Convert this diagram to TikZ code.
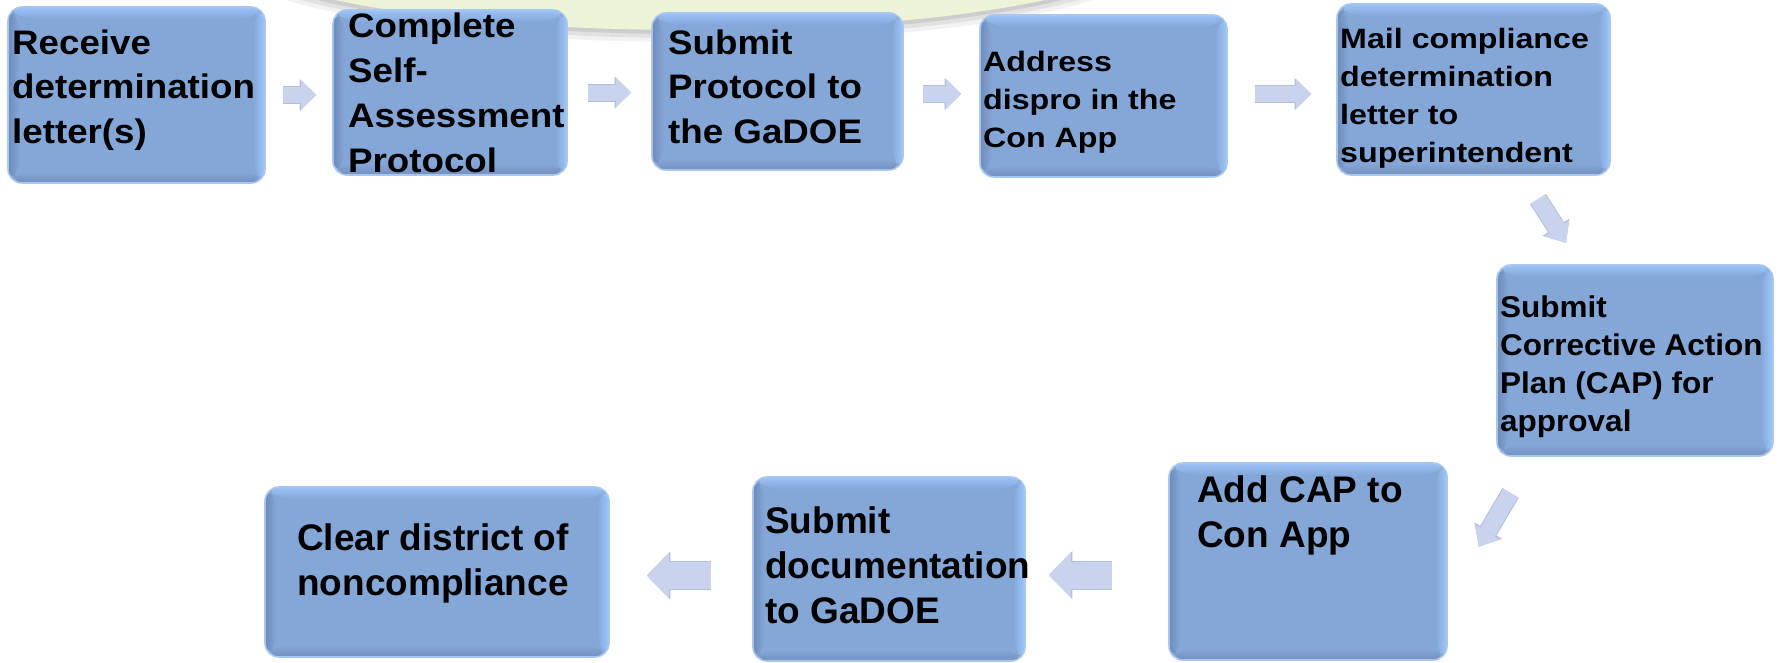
\documentclass[tikz,border=0pt]{standalone}
\usepackage{fontspec}
\setmainfont{Liberation Sans}
\newfontfamily\fTop[FakeStretch=1.08]{Liberation Sans}
\newfontfamily\fMid[FakeStretch=1.15]{Liberation Sans}
\newfontfamily\fSix[FakeStretch=1.05]{Liberation Sans}
\newfontfamily\fBot{Liberation Sans}
\usetikzlibrary{arrows.meta,calc}
\definecolor{bxmain}{HTML}{85A7D8}
\definecolor{bxtop}{HTML}{9CC3F6}
\definecolor{bxright}{HTML}{9EC7FB}
\definecolor{bxleft}{HTML}{6E8BBA}
\definecolor{bxbot}{HTML}{7490BE}
\definecolor{bxline}{HTML}{A9C7EE}
\definecolor{arfill}{HTML}{C9D3EE}
\definecolor{arline}{HTML}{B3BEDC}
\definecolor{bggreen}{HTML}{EDF3D7}
\newcommand{\stacktxt}[2]{\vtop{\baselineskip=#1\lineskiplimit=-1000pt\lineskip=0pt\relax #2}}
\newcommand{\txtrow}[1]{\hbox{#1}}
\tikzset{
  stepbox/.style={rounded corners=14pt, fill=bxmain, draw=bxline, line width=1.6pt, inner sep=0pt,
    path picture={
      \coordinate (nw) at (path picture bounding box.north west);
      \coordinate (ne) at (path picture bounding box.north east);
      \coordinate (sw) at (path picture bounding box.south west);
      \coordinate (se) at (path picture bounding box.south east);
      \shade[top color=bxtop, bottom color=bxmain] (nw) -- (ne) -- ([xshift=-12pt,yshift=-12pt]ne) -- ([xshift=12pt,yshift=-12pt]nw) -- cycle;
      \shade[bottom color=bxbot, top color=bxmain] (sw) -- (se) -- ([xshift=-12pt,yshift=12pt]se) -- ([xshift=12pt,yshift=12pt]sw) -- cycle;
      \shade[left color=bxleft, right color=bxmain] (nw) -- ([xshift=12pt,yshift=-12pt]nw) -- ([xshift=12pt,yshift=12pt]sw) -- (sw) -- cycle;
      \shade[right color=bxright, left color=bxmain] (ne) -- ([xshift=-12pt,yshift=-12pt]ne) -- ([xshift=-12pt,yshift=12pt]se) -- (se) -- cycle;
    }},
  txt/.style={inner sep=0pt, anchor=base west, text=black},
  arT/.style={line width=16pt, draw=arfill, -{Triangle[width=29pt,length=15pt,line width=0pt]}},
  arTo/.style={line width=18pt, draw=arline, -{Triangle[width=32pt,length=16.5pt,line width=0pt]}},
  arD/.style={line width=17pt, draw=arfill, -{Triangle[width=29pt,length=17pt,line width=0pt]}},
  arDo/.style={line width=19pt, draw=arline, -{Triangle[width=32pt,length=18.5pt,line width=0pt]}},
  arB/.style={line width=27pt, draw=arfill, -{Triangle[width=45pt,length=22pt,line width=0pt]}},
  arBo/.style={line width=29pt, draw=arline, -{Triangle[width=48pt,length=23.5pt,line width=0pt]}},
}
\begin{document}
\begin{tikzpicture}[x=1pt,y=-1pt]
\useasboundingbox (0,0) rectangle (1783,662);
\clip (0,0) rectangle (1783,662);
% background shape at the top
\fill[black, opacity=0.05] (690,-45) ellipse [x radius=472pt, y radius=87pt];
\fill[black, opacity=0.07] (690,-49) ellipse [x radius=471pt, y radius=87pt];
\fill[black, opacity=0.09] (690,-53) ellipse [x radius=470pt, y radius=87pt];
\fill[bggreen] (690,-57) ellipse [x radius=470pt, y radius=87pt];

% boxes
\node[stepbox, minimum width=257pt, minimum height=176pt] (b1) at (136.5,95) {};
\node[stepbox, minimum width=234pt, minimum height=165pt] (b2) at (450,92.5) {};
\node[stepbox, minimum width=251pt, minimum height=157pt] (b3) at (777.5,91.5) {};
\node[stepbox, minimum width=247pt, minimum height=162pt] (b4) at (1103.5,96) {};
\node[stepbox, minimum width=273pt, minimum height=171pt] (b5) at (1473.5,89.5) {};
\node[stepbox, minimum width=276pt, minimum height=191pt] (b6) at (1635,360.5) {};
\node[stepbox, minimum width=278pt, minimum height=197pt] (b7) at (1308,561.5) {};
\node[stepbox, minimum width=272pt, minimum height=184pt] (b8) at (889,569) {};
\node[stepbox, minimum width=344pt, minimum height=170pt] (b9) at (437,572) {};

% texts
\node[txt] (t1) at (12,54) {\fTop\bfseries\fontsize{34pt}{44.5pt}\selectfont\stacktxt{44.5pt}{\txtrow{Receive}\txtrow{determination}\txtrow{letter(s)}}};
\node[txt] (t2) at (348,37) {\fTop\bfseries\fontsize{34pt}{45pt}\selectfont\stacktxt{45pt}{\txtrow{Complete}\txtrow{Self-}\txtrow{Assessment}\txtrow{Protocol}}};
\node[txt] (t3) at (668,54) {\fTop\bfseries\fontsize{34pt}{44.5pt}\selectfont\stacktxt{44.5pt}{\txtrow{Submit}\txtrow{Protocol to}\txtrow{the GaDOE}}};
\node[txt] (t4) at (983,71) {\fMid\bfseries\fontsize{28pt}{38pt}\selectfont\stacktxt{38pt}{\txtrow{Address}\txtrow{dispro in the}\txtrow{Con App}}};
\node[txt] (t5) at (1340,48) {\fMid\bfseries\fontsize{28pt}{38pt}\selectfont\stacktxt{38pt}{\txtrow{Mail compliance}\txtrow{determination}\txtrow{letter to}\txtrow{superintendent}}};
\node[txt] (t6) at (1500,317) {\fSix\bfseries\fontsize{30pt}{38.3pt}\selectfont\stacktxt{38.3pt}{\txtrow{Submit}\txtrow{Corrective Action}\txtrow{Plan (CAP) for}\txtrow{approval}}};
\node[txt] (t7) at (1197,502) {\fBot\bfseries\fontsize{37pt}{45pt}\selectfont\stacktxt{45pt}{\txtrow{Add CAP to}\txtrow{Con App}}};
\node[txt] (t8) at (765,533) {\fBot\bfseries\fontsize{37pt}{45pt}\selectfont\stacktxt{45pt}{\txtrow{Submit}\txtrow{documentation}\txtrow{to GaDOE}}};
\node[txt] (t9) at (297,550) {\fBot\bfseries\fontsize{37pt}{45pt}\selectfont\stacktxt{45pt}{\txtrow{Clear district of}\txtrow{noncompliance}}};

% connectors (block arrows)
\draw[arTo, shorten <=17pt, shorten >=16pt] (b1.east) -- (b1.east -| b2.west);
\draw[arT,  shorten <=17pt, shorten >=16pt] (b1.east) -- (b1.east -| b2.west);
\draw[arTo, shorten <=20pt, shorten >=20pt] (b2.east) -- (b2.east -| b3.west);
\draw[arT,  shorten <=20pt, shorten >=20pt] (b2.east) -- (b2.east -| b3.west);
\draw[arTo, shorten <=19pt, shorten >=18pt] ([yshift=-2.5pt]b3.east) -- ([yshift=-2.5pt]b3.east -| b4.west);
\draw[arT,  shorten <=19pt, shorten >=18pt] ([yshift=-2.5pt]b3.east) -- ([yshift=-2.5pt]b3.east -| b4.west);
\draw[arTo, shorten <=27pt, shorten >=25pt] ([yshift=2pt]b4.east) -- ([yshift=2pt]b4.east -| b5.west);
\draw[arT,  shorten <=27pt, shorten >=25pt] ([yshift=2pt]b4.east) -- ([yshift=2pt]b4.east -| b5.west);
\draw[arDo, shorten <=27.6pt, shorten >=25.3pt] ($(b5.south west)!0.681!(b5.south east)$) -- ($(b6.north west)!0.300!(b6.north east)$);
\draw[arD,  shorten <=27.6pt, shorten >=25.3pt] ($(b5.south west)!0.681!(b5.south east)$) -- ($(b6.north west)!0.300!(b6.north east)$);
\draw[arDo, shorten <=42pt, shorten >=60.9pt] ($(b6.south west)!0.129!(b6.south east)$) -- ($(b7.north east)!0.689!(b7.south east)$);
\draw[arD,  shorten <=42pt, shorten >=60.9pt] ($(b6.south west)!0.129!(b6.south east)$) -- ($(b7.north east)!0.689!(b7.south east)$);
\draw[arBo, shorten <=56pt, shorten >=23pt] ([yshift=-13.5pt]b7.west) -- ([yshift=-13.5pt]b7.west -| b8.east);
\draw[arB,  shorten <=56pt, shorten >=23pt] ([yshift=-13.5pt]b7.west) -- ([yshift=-13.5pt]b7.west -| b8.east);
\draw[arBo, shorten <=41pt, shorten >=37pt] ([yshift=-6.5pt]b8.west) -- ([yshift=-6.5pt]b8.west -| b9.east);
\draw[arB,  shorten <=41pt, shorten >=37pt] ([yshift=-6.5pt]b8.west) -- ([yshift=-6.5pt]b8.west -| b9.east);
\end{tikzpicture}
\end{document}
